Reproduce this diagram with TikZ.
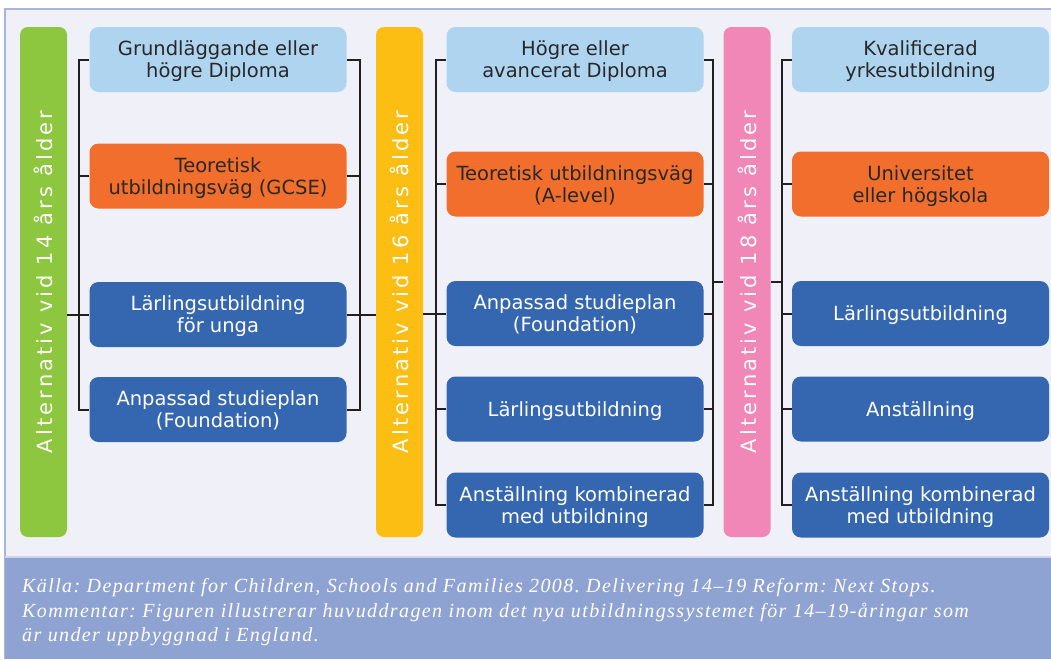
\documentclass[tikz,border=0pt]{standalone}
\usepackage{fontspec}
\newfontfamily\boxfont{DejaVu Sans}
\newfontfamily\barfont[LetterSpace=15]{DejaVu Sans}
\newfontfamily\capfont[LetterSpace=7]{Liberation Serif}
\begin{document}
\begin{tikzpicture}[x=1pt, y=-1pt,
    % Colors
    cgreen/.style={fill={rgb,255:red,141;green,198;blue,63}},
    cyellow/.style={fill={rgb,255:red,253;green,190;blue,20}},
    cpink/.style={fill={rgb,255:red,240;green,135;blue,182}},
    clight/.style={fill={rgb,255:red,174;green,212;blue,240}, text={rgb,255:red,40;green,40;blue,40}},
    corange/.style={fill={rgb,255:red,242;green,110;blue,44}, text={rgb,255:red,40;green,40;blue,40}},
    cblue/.style={fill={rgb,255:red,53;green,103;blue,176}, text=white},
    % Styles
    agebar/.style={rounded corners=8pt, minimum width=47pt, minimum height=510pt, inner sep=0pt,
                   text=white, font=\barfont\fontsize{21}{24}\selectfont},
    pathbox/.style={rounded corners=9pt, minimum width=257pt, minimum height=65pt, inner sep=0pt,
                    text depth=0pt, align=center, font=\boxfont\fontsize{19.5}{22}\selectfont},
    comb/.style={line width=2pt, draw={rgb,255:red,35;green,31;blue,32}},
  ]

  \useasboundingbox (0,0) rectangle (1051,659);

  % Panel and caption band
  \fill[fill={rgb,255:red,239;green,240;blue,248}] (5,9) rectangle (1053,557);
  \draw[line width=1.2pt, draw={rgb,255:red,168;green,182;blue,222}] (1053,9) -- (5,9) -- (5,659);
  \fill[fill={rgb,255:red,143;green,163;blue,211}] (5,557) rectangle (1053,659);
  \draw[line width=1.2pt, draw={rgb,255:red,205;green,212;blue,236}] (5,557) -- (1053,557);

  % Age bars
  \node[agebar, cgreen] (age14) at (43.5,282) {\rotatebox{90}{Alternativ vid 14 års ålder}};
  \node[agebar, cyellow] (age16) at (399.5,282) {\rotatebox{90}{Alternativ vid 16 års ålder}};
  \node[agebar, cpink] (age18) at (747,282) {\rotatebox{90}{Alternativ vid 18 års ålder}};

  % Column 1
  \node[pathbox, clight] (c1b1) at (218,59.5) {Grundläggande eller\\högre Diploma};
  \node[pathbox, corange] (c1b2) at (218,176) {Teoretisk\\utbildningsväg (GCSE)};
  \node[pathbox, cblue] (c1b3) at (218,314.5) {Lärlingsutbildning\\för unga};
  \node[pathbox, cblue] (c1b4) at (218,409.5) {Anpassad studieplan\\(Foundation)};

  % Column 2
  \node[pathbox, clight] (c2b1) at (575,59.5) {Högre eller\\avancerat Diploma};
  \node[pathbox, corange] (c2b2) at (575,184) {Teoretisk utbildningsväg\\(A-level)};
  \node[pathbox, cblue] (c2b3) at (575,313.5) {Anpassad studieplan\\(Foundation)};
  \node[pathbox, cblue] (c2b4) at (575,409) {Lärlingsutbildning};
  \node[pathbox, cblue] (c2b5) at (575,505) {Anställning kombinerad\\med utbildning};

  % Column 3
  \node[pathbox, clight] (c3b1) at (920.5,59.5) {Kvalificerad\\yrkesutbildning};
  \node[pathbox, corange] (c3b2) at (920.5,184) {Universitet\\eller högskola};
  \node[pathbox, cblue] (c3b3) at (920.5,313.5) {Lärlingsutbildning};
  \node[pathbox, cblue] (c3b4) at (920.5,409) {Anställning};
  \node[pathbox, cblue] (c3b5) at (920.5,505) {Anställning kombinerad\\med utbildning};

  % Bracket spines
  \coordinate (l1) at (79,0);
  \coordinate (r1) at (360,0);
  \coordinate (l2) at (436,0);
  \coordinate (r2) at (713,0);
  \coordinate (l3) at (782,0);

  % Connectors, column 1
  \draw[comb] (c1b1.west) -- (c1b1.west -| l1) -- (c1b4.west -| l1) -- (c1b4.west);
  \draw[comb] (c1b2.west) -- (c1b2.west -| l1);
  \draw[comb] (age14.east |- c1b3.west) -- (c1b3.west);
  \draw[comb] (c1b1.east) -- (c1b1.east -| r1) -- (c1b4.east -| r1) -- (c1b4.east);
  \draw[comb] (c1b2.east) -- (c1b2.east -| r1);
  \draw[comb] (c1b3.east) -- (age16.west |- c1b3.east);

  % Connectors, column 2
  \draw[comb] (c2b1.west) -- (c2b1.west -| l2) -- (c2b5.west -| l2) -- (c2b5.west);
  \draw[comb] (c2b2.west) -- (c2b2.west -| l2);
  \draw[comb] (age16.east |- c2b3.west) -- (c2b3.west);
  \draw[comb] (c2b4.west) -- (c2b4.west -| l2);
  \draw[comb] (c2b1.east) -- (c2b1.east -| r2) -- (c2b5.east -| r2) -- (c2b5.east);
  \draw[comb] (c2b2.east) -- (c2b2.east -| r2);
  \draw[comb] (c2b3.east) -- (c2b3.east -| r2);
  \draw[comb] (c2b4.east) -- (c2b4.east -| r2);
  \draw[comb] (age18.west -| r2) -- (age18.west);

  % Connectors, column 3
  \draw[comb] (c3b1.west) -- (c3b1.west -| l3) -- (c3b5.west -| l3) -- (c3b5.west);
  \draw[comb] (c3b2.west) -- (c3b2.west -| l3);
  \draw[comb] (c3b3.west) -- (c3b3.west -| l3);
  \draw[comb] (c3b4.west) -- (c3b4.west -| l3);
  \draw[comb] (age18.east) -- (age18.east -| l3);

  % Caption
  \node[anchor=north west, inner sep=0pt, align=left, text=white,
        font=\capfont\itshape\frenchspacing\fontsize{20}{24.5}\selectfont] (note) at (22,578.5) {
    Källa: Department for Children, Schools and Families 2008. Delivering 14–19 Reform: Next Stops.\\
    Kommentar: Figuren illustrerar huvuddragen inom det nya utbildningssystemet för 14–19-åringar som\\
    är under uppbyggnad i England.
  };

\end{tikzpicture}
\end{document}
